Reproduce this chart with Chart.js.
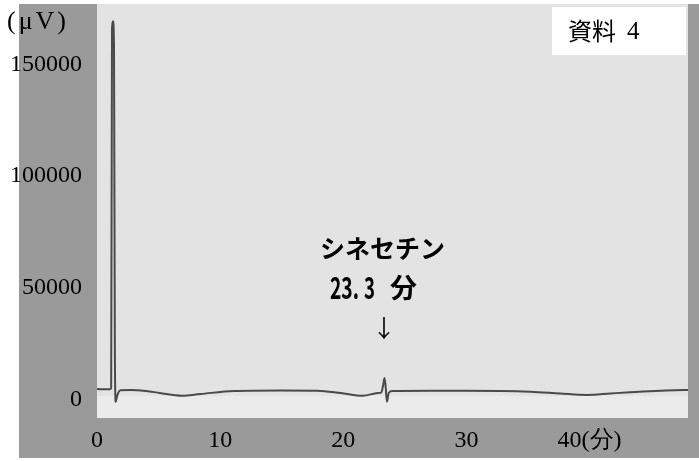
<!DOCTYPE html>
<html>
<head>
<meta charset="utf-8">
<script src="https://cdn.jsdelivr.net/npm/chart.js@4.4.1/dist/chart.umd.min.js"></script>
<style>
  html, body { margin: 0; padding: 0; background: #fff; }
  canvas { display: block; }
</style>
</head>
<body>
<canvas id="chrom" width="699" height="461"></canvas>
<script>
// retention time (min) / detector signal (uV)
const timeMin  = [0, 0.25, 1.05, 1.15, 1.22, 1.30, 1.38, 1.45, 1.52, 1.65,
                  1.9, 2.7, 4.0, 5.1, 6.9, 8.4, 11.1, 14.9, 17.9, 19.8,
                  21.6, 22.8, 23.1, 23.25, 23.35, 23.45, 23.55, 23.7, 24.0, 24.4,
                  29.8, 35.2, 37.6, 39.8, 41.7, 43.3, 47.6, 48];
const signalUv = [900, 800, 800, 1500, 168000, 171000, 160000, 20000, -5000, -2000,
                  300, 460, 0, -930, -2200, -1400, 0, 230, 140, -930,
                  -2200, -930, -600, 3000, 6000, 1500, -5000, -800, 0, 0,
                  140, -320, -1160, -1850, -1160, -600, 460, 460];

const xTicks = [0, 10, 20, 30, 40];
const yTicks = [0, 50000, 100000, 150000];
const peakTime = 23.3;

const SERIF = "'Liberation Serif', 'DejaVu Serif', serif";
const GOTHIC = "'Noto Sans CJK JP', 'Noto Sans', sans-serif";

// frame + plot background
const backdrop = {
  id: 'backdrop',
  beforeDraw(chart) {
    const c = chart.ctx, a = chart.chartArea;
    c.save();
    c.fillStyle = '#ffffff';
    c.fillRect(0, 0, chart.width, chart.height);
    c.fillStyle = '#9a9a9a';
    c.fillRect(19, 4, chart.width - 19, 454);
    c.fillStyle = '#e3e3e3';
    c.fillRect(a.left, a.top, a.right - a.left, a.bottom - a.top);
    c.fillStyle = '#ebebeb';
    c.fillRect(a.left, a.bottom - 22, a.right - a.left, 22);
    c.restore();
  }
};

// unit, legend box and peak note
const notes = {
  id: 'notes',
  afterDraw(chart) {
    const c = chart.ctx;
    const px = chart.scales.x.getPixelForValue(peakTime);
    c.save();
    c.fillStyle = '#000';
    c.textBaseline = 'middle';
    c.textAlign = 'left';

    c.font = '26px ' + SERIF;
    c.letterSpacing = '3px';
    c.fillText('(\u03bcV)', 7, 22);
    c.letterSpacing = '0px';

    c.fillStyle = '#fff';
    c.fillRect(552, 7, 134, 48);
    c.fillStyle = '#000';
    c.font = '24px ' + GOTHIC;
    c.fillText('資料', 568, 31);
    c.font = '25px ' + SERIF;
    c.fillText('4', 627, 32);

    c.font = 'bold 25px ' + GOTHIC;
    c.fillText('シネセチン', 320, 248);
    c.font = 'bold 30px ' + GOTHIC;
    c.fillText('23.', 330, 288, 29);
    c.fillText('3', 364, 288, 11);
    c.font = 'bold 27px ' + GOTHIC;
    c.fillText('分', 390, 288);

    c.textAlign = 'center';
    c.font = '24px ' + GOTHIC;
    c.fillText('↓', px, 328);
    c.restore();
  }
};

new Chart(document.getElementById('chrom'), {
  type: 'line',
  data: {
    datasets: [{
      data: timeMin.map((t, i) => ({ x: t, y: signalUv[i] })),
      borderColor: '#4a4a4a',
      borderWidth: 2,
      pointRadius: 0,
      cubicInterpolationMode: 'monotone',
      fill: false
    }]
  },
  options: {
    responsive: false,
    animation: false,
    devicePixelRatio: 1,
    layout: { padding: { top: 4, right: 11, left: 0, bottom: 0 } },
    plugins: { legend: { display: false }, tooltip: { enabled: false } },
    scales: {
      x: {
        type: 'linear',
        position: 'bottom',
        min: 0,
        max: 48,
        afterBuildTicks: s => { s.ticks = xTicks.map(v => ({ value: v })); },
        afterFit: s => { s.height = 43; s.paddingLeft = 0; s.paddingRight = 0; },
        grid: { display: false, drawTicks: false },
        border: { display: false },
        ticks: {
          autoSkip: false,
          maxRotation: 0,
          padding: 8,
          color: '#000',
          font: { family: SERIF, size: 24 },
          callback: v => v === 40 ? '40(分)' : String(v)
        }
      },
      y: {
        type: 'linear',
        display: false,
        min: -12500,
        max: 179000
      },
      yLabels: {
        type: 'linear',
        position: 'left',
        min: -8200,
        max: 177000,
        afterBuildTicks: s => { s.ticks = yTicks.map(v => ({ value: v })); },
        afterFit: s => { s.width = 97; s.paddingTop = 0; s.paddingBottom = 0; },
        grid: { display: false, drawTicks: false },
        border: { display: false },
        ticks: {
          padding: 15,
          color: '#000',
          font: { family: SERIF, size: 24 },
          callback: v => String(v)
        }
      }
    }
  },
  plugins: [backdrop, notes]
});
</script>
</body>
</html>
